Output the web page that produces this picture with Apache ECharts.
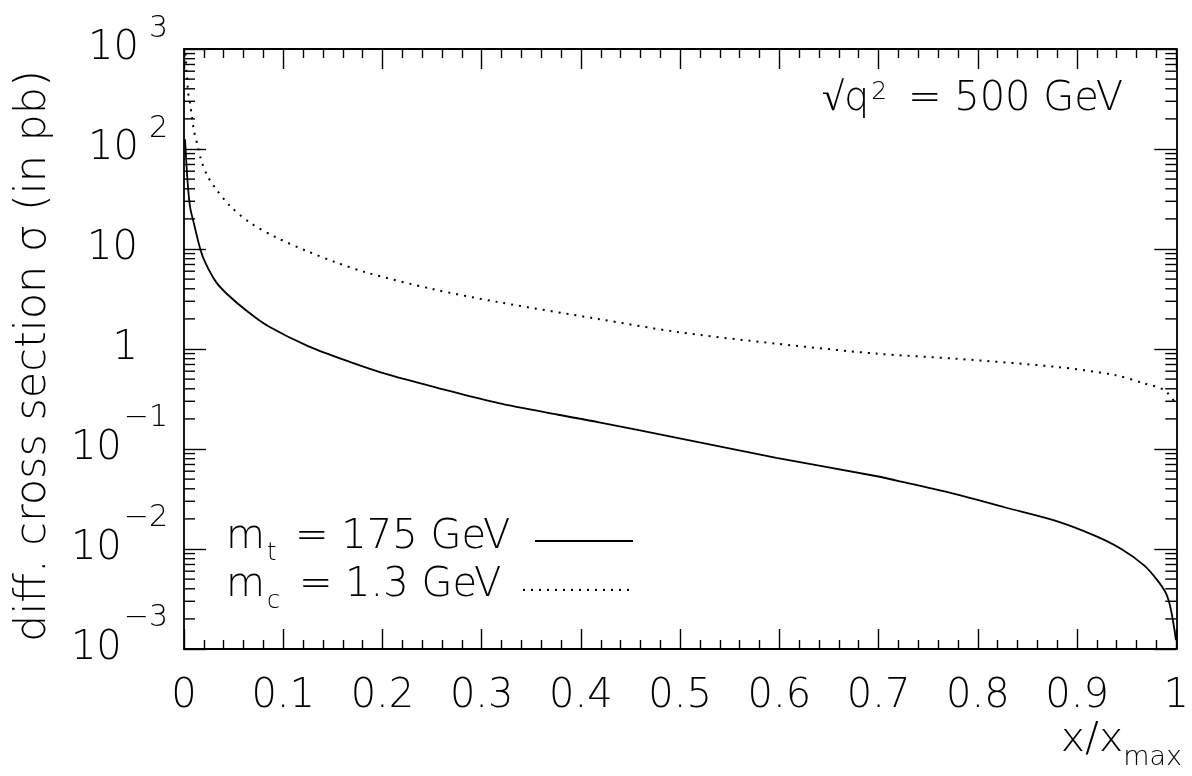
<!DOCTYPE html>
<html>
<head>
<meta charset="utf-8">
<script src="https://cdn.jsdelivr.net/npm/echarts@6/dist/echarts.min.js"></script>
<style>
html,body{margin:0;padding:0;background:#fff;}
#chart{width:1192px;height:776px;}
</style>
</head>
<body>
<div id="chart"></div>
<script>
// ---- data ----
const topMassCurve = [
  [0.001,125],[0.0032,54],[0.0048,34],[0.0065,25],[0.0098,18.3],[0.0165,9.9],
  [0.0215,7.3],[0.0315,4.8],[0.0433,3.55],[0.065,2.33],[0.085,1.69],[0.125,1.07],
  [0.167,0.745],[0.207,0.55],[0.257,0.405],[0.317,0.287],[0.377,0.22],[0.417,0.186],
  [0.497,0.129],[0.597,0.0816],[0.697,0.0537],[0.7276,0.046],[0.7776,0.0353],[0.8277,0.026],
  [0.8778,0.0192],[0.9178,0.0136],[0.9446,0.01],[0.9676,0.00686],[0.981,0.00486],
  [0.9897,0.00359],[0.9947,0.00245],[0.9997,0.00123]
];
const charmMassCurve = [
  [0.0015,900],[0.0025,610],[0.0032,500],[0.0038,400],[0.0048,331],[0.0065,273],
  [0.0075,226],[0.0088,188],[0.0098,155],[0.0132,114],[0.0172,78],[0.0232,55],
  [0.0315,40.7],[0.0466,26.8],[0.0666,18.3],[0.0933,13],[0.1234,9.57],[0.1535,7.33],
  [0.1835,5.83],[0.2502,3.98],[0.317,2.94],[0.417,2.0],[0.497,1.48],[0.597,1.13],
  [0.697,0.9],[0.7776,0.80],[0.8778,0.664],[0.9378,0.55],[0.9676,0.453],[0.9877,0.39],[0.998,0.30]
];
const xTickLabels = ['0','0.1','0.2','0.3','0.4','0.5','0.6','0.7','0.8','0.9','1'];
const seriesNames = ['m_t = 175 GeV','m_c = 1.3 GeV'];

// minor log ticks (2..9 x 10^n) – axis decoration only
const minorTickValues = [];
for (let n = -3; n < 3; n++) for (let k = 2; k <= 9; k++) minorTickValues.push([0, k * Math.pow(10, n)]);

const FONT = "'DejaVu Sans'";
const FW = 200;
const chart = echarts.init(document.getElementById('chart'), null, {renderer:'canvas'});

function yLabel(v){
  const e = Math.round(Math.log10(v));
  if (e === 0) return '{p|1}';
  if (e === 1) return '{p|10}';
  if (e > 0) return '{b|10}{sp|' + e + '}';
  return '{b|10}{sn|\u2212' + (-e) + '}';
}
function xLabel(v){
  const i = Math.round(v * 10);
  return xTickLabels[i] !== undefined ? xTickLabels[i] : '';
}

const axisLineStyle = {color:'#000', width:1.8};
const tickStyle = {color:'#000', width:1.4};
const GRID = {left:184, top:45, width:998, height:604};

const option = {
  animation:false,
  backgroundColor:'#fff',
  grid: GRID,
  xAxis: [{
    type:'value', min:0, max:1, interval:0.1, position:'bottom',
    axisLine:{show:true, onZero:false, lineStyle:axisLineStyle},
    axisTick:{show:true, inside:true, length:20, lineStyle:tickStyle},
    minorTick:{show:true, splitNumber:5, length:9, lineStyle:tickStyle},
    splitLine:{show:false},
    axisLabel:{formatter:xLabel, fontFamily:FONT, fontWeight:FW, fontSize:40, color:'#000', margin:28}
  },{
    type:'value', min:0, max:1, interval:0.1, position:'top',
    axisLine:{show:true, onZero:false, lineStyle:axisLineStyle},
    axisTick:{show:true, inside:true, length:20, lineStyle:tickStyle},
    minorTick:{show:true, splitNumber:5, length:9, lineStyle:tickStyle},
    splitLine:{show:false}, axisLabel:{show:false}
  }],
  yAxis: [{
    type:'log', logBase:10, min:0.001, max:1000, position:'left',
    axisLine:{show:true, onZero:false, lineStyle:axisLineStyle},
    axisTick:{show:true, inside:true, length:22, lineStyle:tickStyle},
    minorTick:{show:false},
    splitLine:{show:false},
    axisLabel:{
      formatter:yLabel, margin:16, color:'#000',
      rich:{
        b:{fontFamily:FONT, fontWeight:FW, fontSize:40, lineHeight:98, color:'#000'},
        sp:{fontFamily:FONT, fontWeight:FW, fontSize:30, lineHeight:30, verticalAlign:'top', padding:[14,0,0,10], color:'#000'},
        sn:{fontFamily:FONT, fontWeight:FW, fontSize:30, lineHeight:30, verticalAlign:'top', padding:[3,0,0,2], color:'#000'},
        p:{fontFamily:FONT, fontWeight:FW, fontSize:40, lineHeight:98, padding:[0,30,0,0], color:'#000'}
      }
    }
  },{
    type:'log', logBase:10, min:0.001, max:1000, position:'right',
    axisLine:{show:true, onZero:false, lineStyle:axisLineStyle},
    axisTick:{show:true, inside:true, length:22, lineStyle:tickStyle},
    splitLine:{show:false}, axisLabel:{show:false}
  }],
  series: [{
    name: seriesNames[0], type:'line', data: topMassCurve, showSymbol:false, smooth:0.3,
    lineStyle:{color:'#000', width:1.8}, xAxisIndex:0, yAxisIndex:0, z:5
  },{
    name: seriesNames[1], type:'line', data: charmMassCurve, showSymbol:false, smooth:0.3,
    lineStyle:{color:'#000', width:2, type:[2,6]}, xAxisIndex:0, yAxisIndex:0, z:5
  },{
    type:'custom', data: minorTickValues, silent:true, xAxisIndex:0, yAxisIndex:0,
    encode:{x:0, y:1}, clip:false,
    renderItem: function(params, api){
      const v = api.value(1);
      const pl = api.coord([0, v]);
      const pr = api.coord([1, v]);
      return {type:'group', children:[
        {type:'line', shape:{x1:pl[0], y1:pl[1], x2:pl[0]+11, y2:pl[1]}, style:{stroke:'#000', lineWidth:1.4}},
        {type:'line', shape:{x1:pr[0]-11, y1:pr[1], x2:pr[0], y2:pr[1]}, style:{stroke:'#000', lineWidth:1.4}}
      ]};
    }
  }],
  graphic: [
    {type:'text', x:34, y:356, rotation:Math.PI/2,
     style:{text:'diff. cross section \u03C3 (in pb)', fontFamily:FONT, fontWeight:FW, fontSize:43, fill:'#000', align:'center', verticalAlign:'middle'}},
    {type:'text', right:10, top:720,
     style:{text:'x/x{sub|max}', fontFamily:FONT, fontWeight:FW, fontSize:41, fill:'#000',
       rich:{sub:{fontFamily:FONT, fontWeight:FW, fontSize:27, verticalAlign:'bottom', lineHeight:27, padding:[0,0,-10,0]}}}},
    {type:'text', left:822, top:80,
     style:{text:'\u221Aq{sup|2} = 500 GeV', fontFamily:FONT, fontWeight:FW, fontSize:40, fill:'#000',
       rich:{sup:{fontFamily:FONT, fontWeight:FW, fontSize:25, verticalAlign:'top', lineHeight:25, padding:[0,8,0,2]}}}},
    {type:'text', left:226, top:518,
     style:{text:'m{sub|t} = 175 GeV', fontFamily:FONT, fontWeight:FW, fontSize:40, fill:'#000',
       rich:{sub:{fontFamily:FONT, fontWeight:FW, fontSize:24, verticalAlign:'bottom', lineHeight:24, padding:[0,6,-8,2]}}}},
    {type:'text', left:226, top:566,
     style:{text:'m{sub|c} = 1.3 GeV', fontFamily:FONT, fontWeight:FW, fontSize:40, fill:'#000',
       rich:{sub:{fontFamily:FONT, fontWeight:FW, fontSize:24, verticalAlign:'bottom', lineHeight:24, padding:[0,6,-8,2]}}}},
    {type:'line', shape:{x1:535, y1:541, x2:633, y2:541}, style:{stroke:'#000', lineWidth:1.8}},
    {type:'line', shape:{x1:523, y1:590, x2:633, y2:590}, style:{stroke:'#000', lineWidth:2, lineDash:[2,6]}}
  ]
};
chart.setOption(option);
</script>
</body>
</html>
